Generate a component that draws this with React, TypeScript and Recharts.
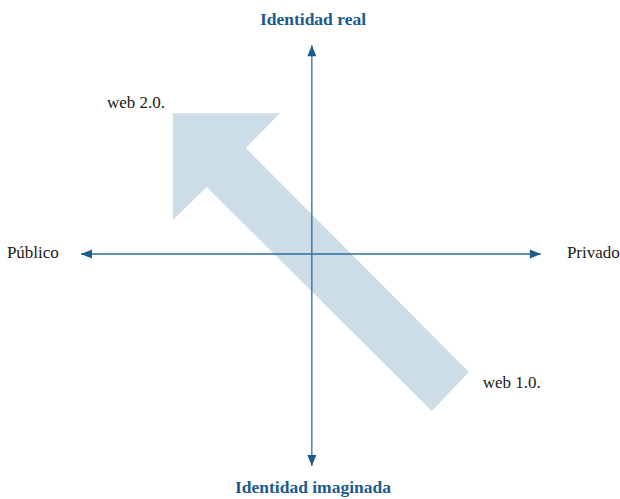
import { ScatterChart, Scatter, XAxis, YAxis } from "recharts";

// chart space: origin where the two axes cross
const X_DOMAIN = [-13.56, 13.4];
const Y_DOMAIN = [-11.67, 12.1];

// big arrow outline, going round from its tip
const arrowX = [-6.04, -1.39, -2.87, 6.83, 5.22, -4.57, -6.04];
const arrowY = [6.71, 6.71, 5.05, -5.62, -7.48, 3.19, 1.62];

// axis ends
const axisLeft = -10.04;
const axisRight = 9.96;
const axisTop = 9.95;
const axisBottom = -10.1;

// arrow heads on the axes
const headX = [axisLeft, axisRight, 0, 0];
const headY = [0, 0, axisTop, axisBottom];
const headDir = ["left", "right", "up", "down"];

// text
const labelText = ["Identidad real", "Identidad imaginada", "Público", "Privado", "web 2.0.", "web 1.0."];
const labelX = [0.05, 0.05, -13.26, 11.09, -8.91, 7.43];
const labelY = [10.9, -11.38, -0.19, -0.19, 6.95, -6.4];
const labelKind = ["title", "title", "plain", "plain", "plain", "plain"];

const BLUE = "#1d5b8c";
const LINE_BLUE = "#2d6d9d";
const ARROW_FILL = "#cddde8";
const FONT = '"Liberation Serif", "DejaVu Serif", serif';

const arrowData = arrowX.map((x, i) => ({ x, y: arrowY[i] }));
const hAxisData = [
  { x: axisLeft, y: 0 },
  { x: axisRight, y: 0 },
];
const vAxisData = [
  { x: 0, y: axisBottom },
  { x: 0, y: axisTop },
];
const headData = headX.map((x, i) => ({ x, y: headY[i], dir: headDir[i] }));
const labelData = labelText.map((text, i) => ({
  x: labelX[i],
  y: labelY[i],
  text,
  kind: labelKind[i],
}));

const ROT: Record<string, number> = { right: 0, down: 90, left: 180, up: 270 };

function Head(props: { cx?: number; cy?: number; payload?: { dir: string } }) {
  const { cx = 0, cy = 0, payload } = props;
  const rot = ROT[payload?.dir ?? "right"];
  return (
    <polygon
      points="0,0 -11,-4.5 -11,4.5"
      fill={BLUE}
      transform={`translate(${cx},${cy}) rotate(${rot})`}
    />
  );
}

function Label(props: { cx?: number; cy?: number; payload?: { text: string; kind: string } }) {
  const { cx = 0, cy = 0, payload } = props;
  if (!payload) return <g />;
  const title = payload.kind === "title";
  return (
    <text
      x={cx}
      y={cy}
      textAnchor={title ? "middle" : "start"}
      style={{
        fontFamily: FONT,
        fontSize: title ? 17.5 : 17,
        fontWeight: title ? 700 : 400,
        fill: title ? BLUE : "#1a1a1a",
      }}
    >
      {payload.text}
    </text>
  );
}

function Outline(props: { points?: { x: number; y: number }[] }) {
  const pts = (props.points ?? []).map((p) => `${p.x},${p.y}`).join(" ");
  return <polygon points={pts} fill={ARROW_FILL} stroke="none" />;
}

function AxisLine(props: { points?: { x: number; y: number }[] }) {
  const pts = props.points ?? [];
  if (pts.length < 2) return <g />;
  return (
    <line
      x1={pts[0].x}
      y1={pts[0].y}
      x2={pts[1].x}
      y2={pts[1].y}
      stroke={LINE_BLUE}
      strokeWidth={1.3}
    />
  );
}

export default function App() {
  return (
    <div style={{ position: "absolute", left: 0, top: 0, width: 620, height: 499, background: "#fff" }}>
      <ScatterChart width={620} height={499} margin={{ top: 0, right: 0, bottom: 0, left: 0 }}>
        <XAxis dataKey="x" type="number" domain={X_DOMAIN} allowDataOverflow hide />
        <YAxis dataKey="y" type="number" domain={Y_DOMAIN} allowDataOverflow hide />
        <Scatter
          data={arrowData}
          line={(p: any) => <Outline {...p} />}
          lineType="joint"
          shape={() => <g />}
          isAnimationActive={false}
        />
        <Scatter
          data={hAxisData}
          line={(p: any) => <AxisLine {...p} />}
          lineType="joint"
          shape={() => <g />}
          isAnimationActive={false}
        />
        <Scatter
          data={vAxisData}
          line={(p: any) => <AxisLine {...p} />}
          lineType="joint"
          shape={() => <g />}
          isAnimationActive={false}
        />
        <Scatter data={headData} shape={(p: any) => <Head {...p} />} isAnimationActive={false} />
        <Scatter data={labelData} shape={(p: any) => <Label {...p} />} isAnimationActive={false} />
      </ScatterChart>
    </div>
  );
}
